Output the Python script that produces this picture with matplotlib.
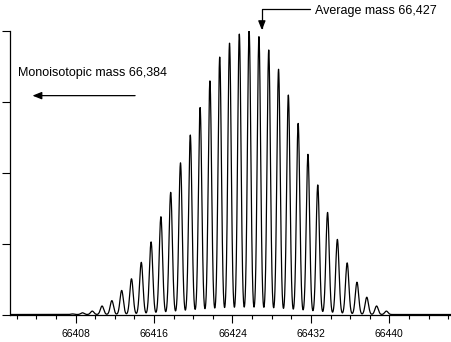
import numpy as np
import matplotlib
matplotlib.use("Agg")
import matplotlib.pyplot as plt
from matplotlib.ticker import MultipleLocator

plt.rcParams['font.family'] = ['Liberation Sans', 'DejaVu Sans']

# Isotope cluster: centroid masses (Da) and relative intensities (%)
peak_mass = [66407.7 + k for k in range(33)]
peak_intensity = [0.2, 0.6, 1.2, 3.0, 4.9, 8.5, 12.6, 18.4, 25.6, 34.5,
                  43.1, 53.5, 63.3, 73.0, 82.4, 90.8, 95.7, 98.9, 100.0, 98.0,
                  93.3, 86.5, 77.4, 67.4, 56.5, 45.7, 36.0, 26.5, 18.2, 11.4,
                  6.1, 3.0, 1.2]

mono_label = "Monoisotopic mass 66,384"
avg_label = "Average mass 66,427"
avg_mass = 66427

x_major = [66408, 66416, 66424, 66432, 66440]

# Profile spectrum built from the centroid list (Gaussian line shape)
sigma = 0.17
mz = np.arange(66401.3, 66446.3, 0.01)
profile = np.zeros_like(mz)
for m, h in zip(peak_mass, peak_intensity):
    profile += h * np.exp(-0.5 * ((mz - m) / sigma) ** 2)

fig = plt.figure(figsize=(4.51, 3.42), dpi=100)
ax = fig.add_axes([10 / 451, 27.5 / 342, 441 / 451, 283.5 / 342])

ax.plot(mz, profile, color='black', lw=0.9)

ax.set_xlim(66401.31, 66446.29)
ax.set_ylim(0, 100)

for side in ('top', 'right'):
    ax.spines[side].set_visible(False)
for side in ('left', 'bottom'):
    ax.spines[side].set_linewidth(0.9)

ax.set_xticks(x_major)
ax.set_xticklabels([str(v) for v in x_major])
ax.xaxis.set_minor_locator(MultipleLocator(2))
ax.tick_params(axis='x', which='major', length=6, width=0.8, pad=4.5,
               labelsize=7.5, direction='out')
ax.tick_params(axis='x', which='minor', length=3, width=0.8, direction='out')
ax.set_yticks([0, 25, 50, 75, 100])
ax.tick_params(axis='y', which='major', length=5.5, width=0.8,
               labelleft=False, direction='out')

# Monoisotopic mass: label with arrow pointing off-scale to the left
ax.text(66402.12, 85.2, mono_label, fontsize=9, ha='left', va='center')
ax.annotate("", xy=(66403.6, 77.2), xytext=(66414.07, 77.2),
            arrowprops=dict(arrowstyle="-|>,head_length=0.55,head_width=0.22",
                            color='black', lw=0.9, shrinkA=0, shrinkB=0,
                            mutation_scale=10))

# Average mass: elbow arrow down to the peak
ax.annotate("", xy=(avg_mass, 100.3), xytext=(66431.9, 107.7),
            annotation_clip=False,
            arrowprops=dict(arrowstyle="-|>,head_length=0.55,head_width=0.22",
                            color='black', lw=0.9, shrinkA=0, shrinkB=0,
                            mutation_scale=10,
                            connectionstyle="angle,angleA=180,angleB=90,rad=0"))
ax.text(66432.4, 106.9, avg_label, fontsize=9, ha='left', va='center',
        clip_on=False)

fig.savefig("out.png", dpi=100)
